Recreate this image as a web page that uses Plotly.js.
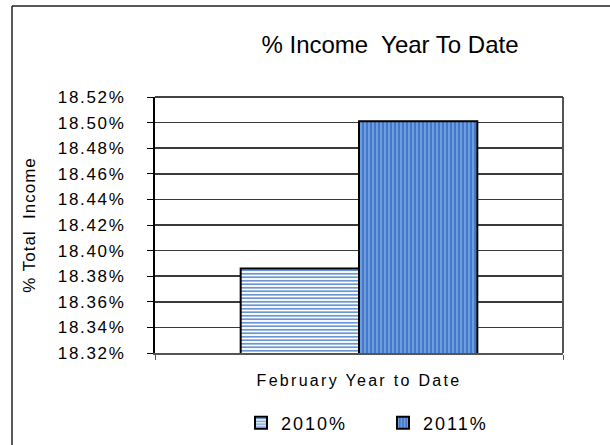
<!DOCTYPE html>
<html>
<head>
<meta charset="utf-8">
<script src="https://cdn.plot.ly/plotly-3.0.1.min.js"></script>
<style>
html,body{margin:0;padding:0;background:#fff;}
#chart{width:610px;height:445px;}
#chart .ytick text{letter-spacing:1.7px;}
#chart .xtick text{letter-spacing:2.3px;}
#chart .legendtext{letter-spacing:2px;}
#chart .ytitle{letter-spacing:1px;}
</style>
</head>
<body>
<div id="chart"></div>
<script>
const categories = ["February Year to Date"];
const series2010 = [18.386];
const series2011 = [18.501];
const seriesNames = ["2010%", "2011%"];
const yTicks = [18.32, 18.34, 18.36, 18.38, 18.40, 18.42, 18.44, 18.46, 18.48, 18.50, 18.52];

const W = 610, H = 445;
const L = 155, R = 47, T = 97, B = 92;
const pw = W - L - R, ph = H - T - B;
function px(x){ return (x - L) / pw; }
function py(y){ return (H - B - y) / ph; }

const traces = [
  {
    type: 'bar', name: seriesNames[0], x: categories, y: series2010,
    marker: {
      color: '#ffffff',
      line: {color: '#000000', width: 2},
      pattern: {shape: '-', fgcolor: '#6b96d3', bgcolor: '#ffffff', size: 3.5, solidity: 0.5}
    },
    hoverinfo: 'skip'
  },
  {
    type: 'bar', name: seriesNames[1], x: categories, y: series2011,
    marker: {
      color: '#4479c9',
      line: {color: '#000000', width: 2},
      pattern: {shape: '|', fgcolor: '#72a2e2', bgcolor: '#4479c9', size: 4, solidity: 0.45}
    },
    hoverinfo: 'skip'
  }
];

const layout = {
  width: W, height: H,
  margin: {l: L, r: R, t: T, b: B, pad: 0, autoexpand: false},
  paper_bgcolor: '#ffffff', plot_bgcolor: '#ffffff',
  font: {family: 'Liberation Sans, Arial, sans-serif', color: '#000000', size: 17},
  title: {text: '% Income  Year To Date', xref: 'container', x: 390 / W, xanchor: 'center',
          yref: 'container', y: 1 - 45 / H, yanchor: 'middle',
          font: {size: 24, color: '#000000'}},
  barmode: 'group', bargap: 0.42, bargroupgap: 0,
  showlegend: true,
  legend: {orientation: 'h', xref: 'container', x: 241 / W, xanchor: 'left',
           yref: 'container', y: 1 - 423 / H, yanchor: 'middle',
           font: {size: 18}, itemwidth: 30, tracegroupgap: 0,
           traceorder: 'normal', entrywidth: 97},
  xaxis: {
    type: 'category', range: [-0.5, 0.5], automargin: false,
    showline: true, linecolor: '#555555', linewidth: 2,
    ticks: 'outside', tickson: 'boundaries', ticklen: 5, tickcolor: '#555555', tickwidth: 1,
    tickfont: {size: 16}, ticklabelstandoff: 12, showgrid: false, fixedrange: true
  },
  yaxis: {
    range: [18.32, 18.52], tickvals: yTicks, ticktext: yTicks.map(v => v.toFixed(2) + '%'),
    automargin: false,
    showline: true, linecolor: '#000000', linewidth: 2,
    ticks: 'outside', ticklen: 6, tickcolor: '#000000', tickwidth: 1,
    showgrid: true, gridcolor: '#3a3a3a', gridwidth: 1.5, zeroline: false,
    tickfont: {size: 17}, ticklabelstandoff: 18,
    title: {text: '% Total  Income', font: {size: 17}, standoff: 28},
    fixedrange: true
  },
  shapes: [
    {type: 'line', xref: 'paper', yref: 'paper', x0: px(12), x1: px(620), y0: py(6), y1: py(6), line: {color: '#222222', width: 1.5}},
    {type: 'line', xref: 'paper', yref: 'paper', x0: px(12), x1: px(12), y0: py(6), y1: py(450), line: {color: '#222222', width: 1.5}},
    {type: 'line', xref: 'paper', yref: 'paper', x0: 1, x1: 1, y0: 0, y1: 1, line: {color: '#555555', width: 2}},
    {type: 'line', xref: 'paper', yref: 'paper', x0: 0, x1: 1, y0: 1, y1: 1, line: {color: '#444444', width: 2}}
  ]
};

Plotly.newPlot('chart', traces, layout, {displayModeBar: false, staticPlot: true});
</script>
</body>
</html>
